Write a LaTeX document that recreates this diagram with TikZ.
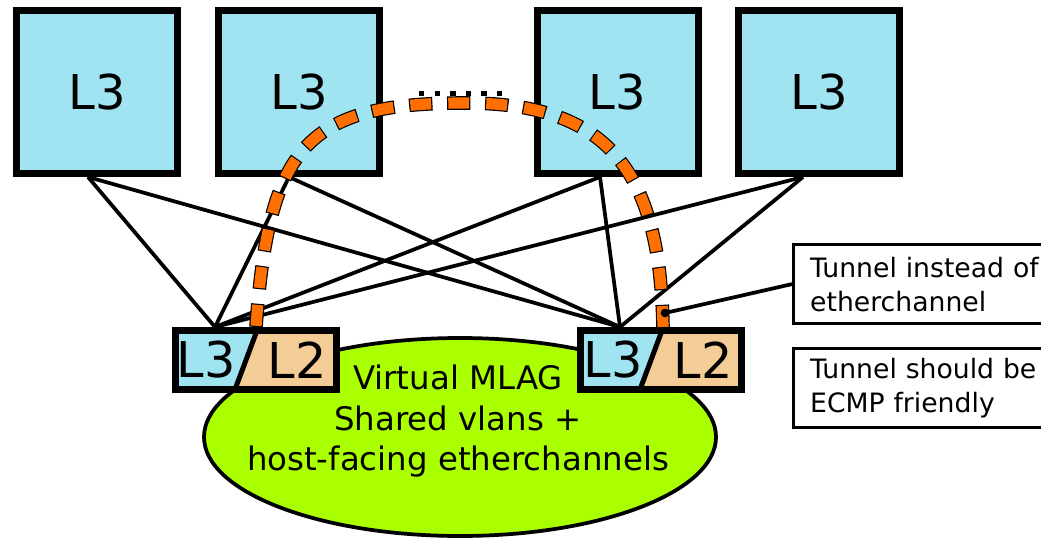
\documentclass[tikz,border=0pt]{standalone}
\usepackage{fontspec}
\setmainfont{DejaVu Sans}
\usetikzlibrary{calc,shapes.geometric}
\definecolor{l3blue}{RGB}{161,228,241}
\definecolor{l2tan}{RGB}{244,204,150}
\definecolor{mlaggreen}{RGB}{170,255,0}
\definecolor{tunnelorange}{RGB}{255,112,0}
\begin{document}
\begin{tikzpicture}[x=0.75pt,y=-0.75pt,
  topbox/.style={draw, line width=5.25pt, fill=l3blue, minimum width=120.75pt,
    minimum height=122.25pt, inner sep=0pt, font=\fontsize{36pt}{36pt}\selectfont},
  splitbox/.style={draw, line width=5.25pt, minimum width=120.75pt,
    minimum height=44.25pt, inner sep=0pt,
    path picture={
      \coordinate (ppn) at ($(path picture bounding box.north)+(1,0)$);
      \coordinate (pps) at ($(path picture bounding box.south)+(-21,0)$);
      \fill[l3blue] (path picture bounding box.south west) -- (path picture bounding box.north west)
        -- (ppn) -- (pps) -- cycle;
      \fill[l2tan] (ppn) -- (path picture bounding box.north east)
        -- (path picture bounding box.south east) -- (pps) -- cycle;
      \draw[line width=3.75pt] (ppn) -- (pps);
    }},
  layerlabel/.style={inner sep=0pt, font=\fontsize{37pt}{37pt}\selectfont},
  link/.style={line width=2.8pt},
  tunnel/.style={draw=black, line width=10.2pt, dash pattern=on 17.5pt off 11pt,
    postaction={draw=tunnelorange, line width=8.4pt,
      dash pattern=on 15.7pt off 12.8pt, dash phase=27.6pt}},
  callout/.style={draw, line width=2.4pt, anchor=north west, text width=195pt,
    inner xsep=12.4pt, inner ysep=0pt, minimum height=59.25pt, align=left,
    font=\fontsize{20pt}{25.5pt}\selectfont},
]
\path[use as bounding box, clip] (0,0) rectangle (1041,541);

% shared MLAG domain
\node[draw, ellipse, line width=2.8pt, fill=mlaggreen, minimum width=384pt,
  minimum height=148.5pt, inner sep=0pt] (mlag) at (460,437) {};
\node[inner sep=0pt, align=center, anchor=north, font=\fontsize{24.3pt}{30.4pt}\selectfont]
  (mlagtext) at (458,365) {Virtual MLAG\\Shared vlans +\\host-facing etherchannels};

% upper L3 switches
\node[topbox] (t1) at (97,92) {L3};
\node[topbox] (t2) at (299,92) {L3};
\node[topbox] (t3) at (617.5,92) {L3};
\node[topbox] (t4) at (819,92) {L3};

% lower L3/L2 switches
\node[splitbox] (lb) at (256,360) {};
\node[splitbox] (rb) at (661,360) {};
\node[layerlabel] (lb3) at ($(lb.center)+(-50,0)$) {L3};
\node[layerlabel] (lb2) at ($(lb.center)+(41,0)$) {L2};
\node[layerlabel] (rb3) at ($(rb.center)+(-48,0)$) {L3};
\node[layerlabel] (rb2) at ($(rb.center)+(42,0)$) {L2};

% uplinks
\coordinate (u1) at ($(t1.south)+(-9,0)$);
\coordinate (u2) at ($(t2.south)+(-10,0)$);
\coordinate (u3) at ($(t3.south)+(-17.5,0)$);
\coordinate (u4) at ($(t4.south)+(-16,0)$);
\coordinate (dl) at ($(lb.north)+(-41,0)$);
\coordinate (dr) at ($(rb.north)+(-41,0)$);
\foreach \u in {u1,u2,u3,u4} {
  \draw[link] (\u) -- (dl);
  \draw[link] (\u) -- (dr);
}

% more switches in between
\coordinate (d1) at (419,94);
\coordinate (d2) at (503,94);
\draw[line width=3.75pt, dash pattern=on 4pt off 7.7pt] (d1) -- (d2);

% tunnel between the two lower switches
\coordinate (apex) at (465,103);
\coordinate (tr) at ($(rb.north)+(2,0)$);
\path[tunnel] (lb.north) .. controls ($(lb.north)+(13,-180)$) and ($(apex)+(-160,0)$) .. (apex)
  .. controls ($(apex)+(140,0)$) and ($(tr)+(-3,-160)$) .. (tr);

% notes
\node[callout] (c1) at (792,243) {Tunnel instead of\\etherchannel};
\node[callout] (c2) at (792,347) {Tunnel should be\\ECMP friendly};
\node[circle, fill, inner sep=0pt, minimum size=6.5pt] (tip) at (665,313) {};
\draw[link] (c1.west) -- (tip.center);
\end{tikzpicture}
\end{document}
